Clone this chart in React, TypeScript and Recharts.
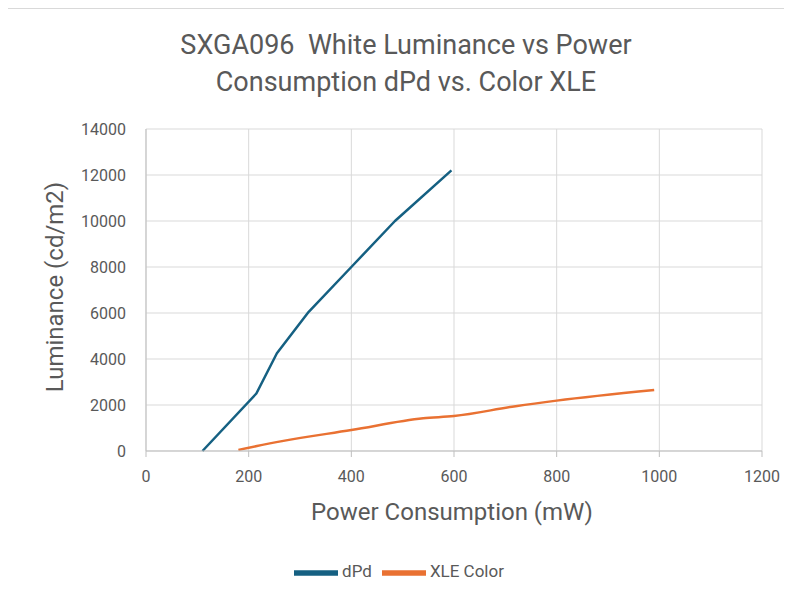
import { LineChart, Line, XAxis, YAxis, CartesianGrid, Legend } from "recharts";

const dpdPower: number[] = [110, 215, 255, 317, 400, 485, 595];
const dpdLum: number[] = [0, 2500, 4250, 6050, 8000, 10000, 12200];

const xlePower: number[] = [180, 265, 400, 540, 600, 720, 800, 990];
const xleLum: number[] = [50, 430, 910, 1420, 1520, 1950, 2190, 2650];

const xTicks: number[] = [0, 200, 400, 600, 800, 1000, 1200];
const yTicks: number[] = [0, 2000, 4000, 6000, 8000, 10000, 12000, 14000];

const seriesOrder: string[] = ["dPd", "XLE Color"];

const dpdData = dpdPower.map((p, i) => ({ power: p, lum: dpdLum[i] }));
const xleData = xlePower.map((p, i) => ({ power: p, lum: xleLum[i] }));

const FONT = "Roboto, 'Open Sans', sans-serif";
const GREY = "#595959";

export default function App() {
  return (
    <div
      style={{
        position: "relative",
        marginLeft: -3,
        width: 790,
        height: 592,
        border: "1px solid #d9d9d9",
        background: "#fff",
        fontFamily: FONT,
      }}
    >
      <div
        style={{
          position: "absolute",
          top: 18,
          left: 0,
          width: 800,
          textAlign: "center",
          fontSize: 27,
          lineHeight: "37px",
          color: GREY,
        }}
      >
        SXGA096&nbsp; White Luminance vs Power
        <br />
        Consumption dPd vs. Color XLE
      </div>
      <LineChart
        width={790}
        height={592}
        margin={{ top: 120, right: 34, left: 40, bottom: 20 }}
      >
        <CartesianGrid stroke="#d9d9d9" />
        <XAxis
          type="number"
          dataKey="power"
          domain={[0, 1200]}
          ticks={xTicks}
          allowDataOverflow
          stroke="#bfbfbf"
          tickSize={6}
          tickMargin={14}
          height={100}
          tick={{ fill: GREY, fontSize: 16, fontFamily: FONT }}
          label={{
            content: () => (
              <text
                x={446}
                y={503}
                textAnchor="middle"
                dominantBaseline="central"
                fill={GREY}
                fontSize={24}
                fontFamily={FONT}
              >
                Power Consumption (mW)
              </text>
            ),
          }}
        />
        <YAxis
          type="number"
          dataKey="lum"
          domain={[0, 14000]}
          ticks={yTicks}
          axisLine={{ stroke: "#bfbfbf" }}
          tickLine={false}
          tickMargin={14}
          width={100}
          tick={{ fill: GREY, fontSize: 16, fontFamily: FONT }}
          label={{
            content: () => (
              <text
                x={49}
                y={278}
                transform="rotate(-90 49 278)"
                textAnchor="middle"
                dominantBaseline="central"
                fill={GREY}
                fontSize={24}
                fontFamily={FONT}
              >
                Luminance (cd/m2)
              </text>
            ),
          }}
        />
        <Legend
          verticalAlign="bottom"
          height={30}
          iconType="plainline"
          iconSize={44}
          itemSorter={(item: any) => seriesOrder.indexOf(item.value)}
          wrapperStyle={{ fontSize: 17, fontFamily: FONT, color: GREY }}
          formatter={(v) => <span style={{ color: GREY }}>{v}</span>}
        />
        <Line
          data={dpdData}
          dataKey="lum"
          name="dPd"
          type="linear"
          stroke="#156082"
          strokeWidth={2.5}
          strokeLinejoin="round"
          dot={false}
          isAnimationActive={false}
        />
        <Line
          data={xleData}
          dataKey="lum"
          name="XLE Color"
          type="monotone"
          stroke="#E97132"
          strokeWidth={2.5}
          dot={false}
          isAnimationActive={false}
        />
      </LineChart>
    </div>
  );
}
